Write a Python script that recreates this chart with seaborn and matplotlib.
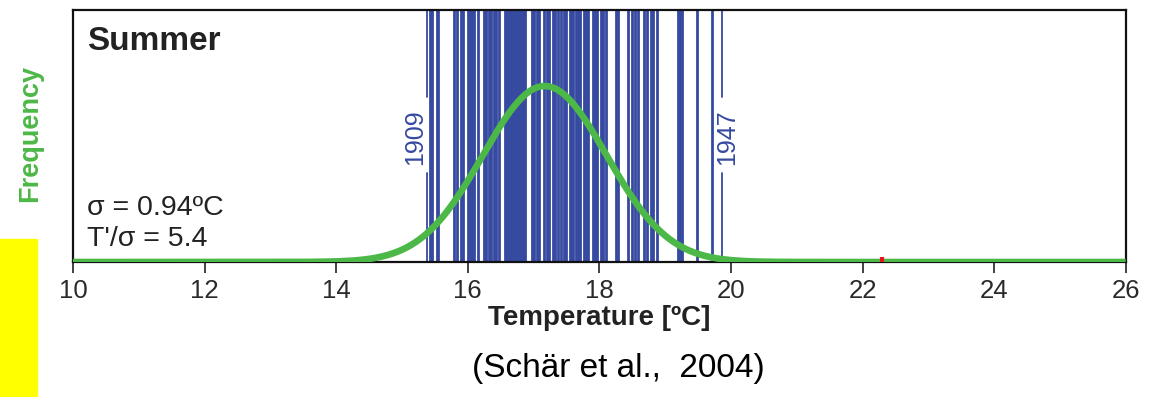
import numpy as np
import matplotlib
matplotlib.use("Agg")
import matplotlib.pyplot as plt
import seaborn as sns
from matplotlib.patches import Rectangle

# =====================
# DATA
# =====================
# summer mean temperatures, one line per year
year_temps = [15.43, 15.46, 15.54, 15.55, 15.79, 15.83, 15.90, 15.93, 16.01,
              16.04, 16.07, 16.10, 16.16, 16.25, 16.28, 16.33, 16.36, 16.40,
              16.43, 16.48, 16.56, 16.60, 16.63, 16.66, 16.69, 16.72, 16.75,
              16.78, 16.81, 16.84, 16.87, 16.97, 17.00, 17.05, 17.09, 17.16,
              17.21, 17.24, 17.29, 17.32, 17.37, 17.42, 17.47, 17.50, 17.55,
              17.57, 17.60, 17.64, 17.68, 17.71, 17.76, 17.79, 17.83, 17.91,
              17.94, 17.97, 18.03, 18.06, 18.10, 18.25, 18.29, 18.43, 18.49,
              18.54, 18.59, 18.68, 18.72, 18.78, 18.81, 18.88, 19.20, 19.22,
              19.25, 19.48, 19.72]
labelled_years = ['1909', '1947']
labelled_temps = [15.38, 19.87]
temp_2003 = 22.3

# fitted normal distribution (parameters from the figure)
fit_mean = 17.17
fit_sigma = 0.94

x_ticks = [10, 12, 14, 16, 18, 20, 22, 24, 26]

# =====================
# STYLE
# =====================
sns.set_theme(style='white')
plt.rcParams['font.family'] = ['Liberation Sans', 'DejaVu Sans']

BLUE = '#3549a0'
GREEN = '#4cb847'

fig = plt.figure(figsize=(11.51, 3.97), dpi=100)
ax = fig.add_axes([0.0634, 0.340, 0.9146, 0.635])

# yearly values as a rug spanning the whole height
sns.rugplot(x=year_temps, height=1, color=BLUE, linewidth=2.0, alpha=1,
            expand_margins=False, ax=ax)

# labelled years: line broken where the label sits
for yr, t in zip(labelled_years, labelled_temps):
    ax.axvline(t, 0, 0.353, color=BLUE, lw=1.3)
    ax.axvline(t, 0.655, 1, color=BLUE, lw=1.3)
ax.text(15.20, 0.496, labelled_years[0], rotation=90, color=BLUE,
        fontsize=18, ha='center', va='center', transform=ax.get_xaxis_transform())
ax.text(19.95, 0.496, labelled_years[1], rotation=90, color=BLUE,
        fontsize=18, ha='center', va='center', transform=ax.get_xaxis_transform())

# fitted normal curve
grid = np.linspace(10, 26, 600)
pdf = np.exp(-0.5 * ((grid - fit_mean) / fit_sigma) ** 2) / (fit_sigma * np.sqrt(2 * np.pi))
sns.lineplot(x=grid, y=pdf, color=GREEN, lw=4.8, ax=ax, zorder=5,
             solid_capstyle='butt')

# 2003 marker
ax.plot([temp_2003, temp_2003], [0.0, 0.012], color='#e8141c', lw=3,
        solid_capstyle='butt', zorder=6)

ax.set_xlim(10, 26)
ax.set_ylim(0, 0.608)
ax.set_xticks(x_ticks)
ax.set_xticklabels([str(v) for v in x_ticks], fontsize=18.5, color='#2a2a2a')
ax.set_yticks([])
ax.tick_params(axis='x', direction='out', length=8, width=1.3,
               color='#333333', bottom=True, pad=4)
for s in ax.spines.values():
    s.set_color('#111111')
    s.set_linewidth(1.6)

ax.set_xlabel('Temperature [ºC]', fontsize=20, fontweight='bold',
              color='#222222', labelpad=2)
ax.set_ylabel('Frequency', fontsize=19.5, fontweight='bold', color=GREEN)
ax.yaxis.set_label_coords(-0.0285, 0.51)

ax.text(0.013, 0.875, 'Summer', transform=ax.transAxes, fontsize=24,
        fontweight='bold', color='#222222', ha='left', va='center')
ax.text(0.013, 0.215, 'σ = 0.94ºC', transform=ax.transAxes, fontsize=20.5,
        color='#222222', ha='left', va='center')
ax.text(0.013, 0.09, "T'/σ = 5.4", transform=ax.transAxes, fontsize=20.5,
        color='#222222', ha='left', va='center')

# citation + yellow box
fig.text(0.537, 0.073, '(Schär et al.,  2004)', fontsize=24,
         ha='center', va='center', color='black')
fig.patches.append(Rectangle((0, 0), 37 / 1151, 158 / 397,
                             transform=fig.transFigure, color='#ffff00',
                             zorder=0))

plt.savefig('out.png', dpi=100)
plt.close()
